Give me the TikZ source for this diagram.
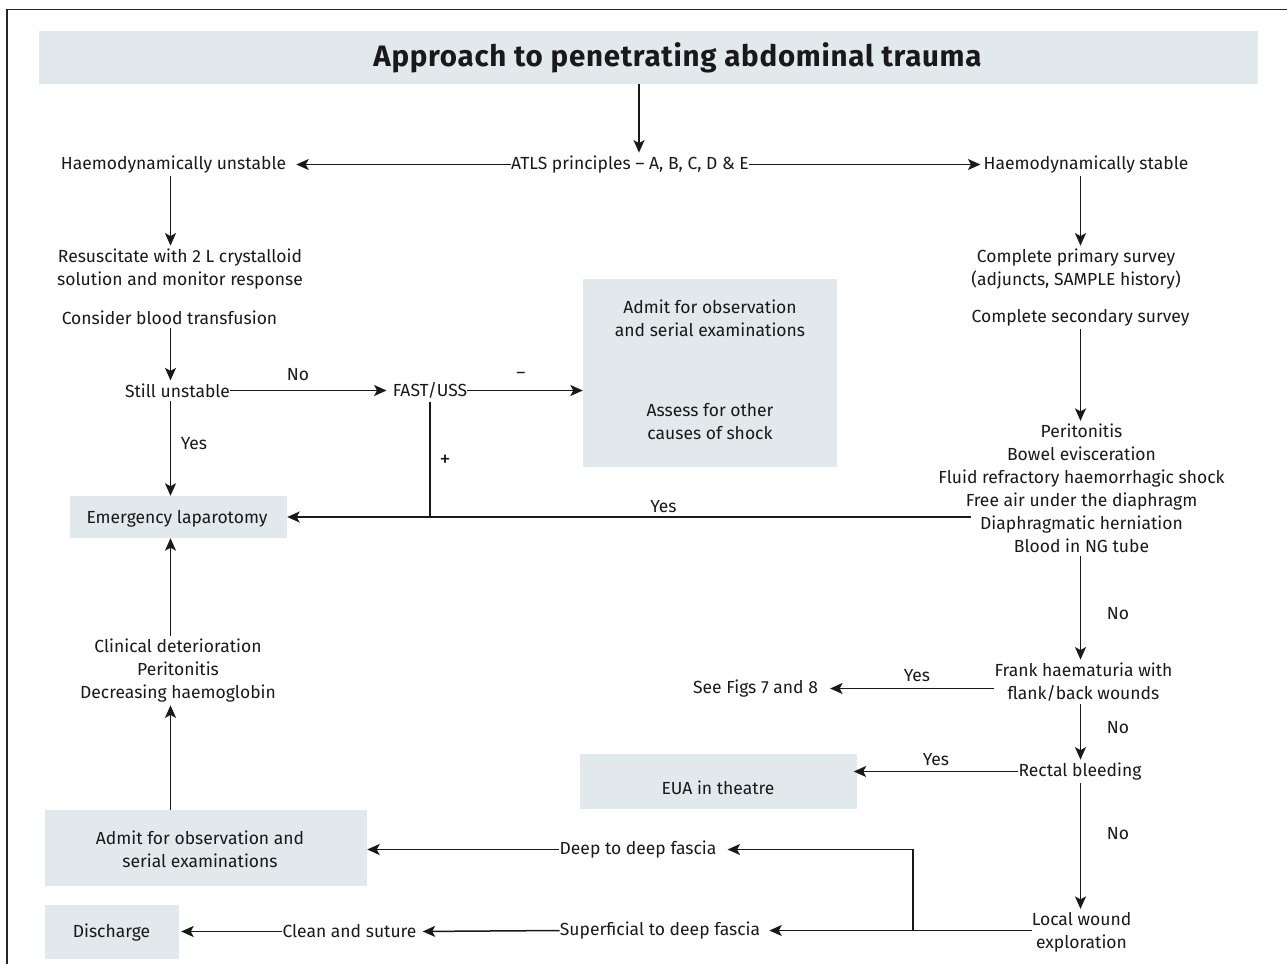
\documentclass[tikz,border=0pt]{standalone}
\usepackage{fontspec}
\setmainfont{Fira Sans}
\newfontfamily\headfamily[LetterSpace=2.5]{Fira Sans}
\usetikzlibrary{arrows.meta}
\definecolor{boxfill}{RGB}{226,233,236}
\definecolor{ink}{RGB}{25,25,25}
\newcommand\bodyfont{\fontsize{17.5}{23}\selectfont}
\newcommand\headfont{\headfamily\fontsize{29.5}{34}\selectfont\bfseries}
\tikzset{
  txt/.style={font=\bodyfont, text=ink, inner xsep=0pt, inner ysep=3pt, align=center},
  lbl/.style={font=\bodyfont, text=ink, inner sep=0pt},
  shaded/.style={fill=boxfill, inner sep=0pt, draw=none},
  arr/.style={draw=ink, line width=1.5pt, -{Stealth[length=12.5pt,width=11pt,inset=3pt]}},
  ln/.style={draw=ink, line width=1.5pt},
}
\begin{document}
\begin{tikzpicture}[x=1pt,y=-1pt]
\useasboundingbox (0,0) rectangle (1287,964);
% outer frame (top and left edges only)
\draw[line width=1.6pt, draw=black!85] (7,964) -- (7,9.5) -- (1287,9.5);

% column guides for vertical connectors
\coordinate (cL) at (170.5,0);
\coordinate (cR) at (1080.5,0);
\coordinate (cT) at (639,0);
\coordinate (br) at (913,0);
\coordinate (dh) at (971,517);

% shaded boxes
\node[shaded, minimum width=1219pt, minimum height=53pt] (titlebox) at (648.5,57.5) {};
\node[font=\headfont, text=ink, inner sep=0pt] (title) at (677.5,58) {Approach to penetrating abdominal trauma};
\node[shaded, minimum width=254pt, minimum height=188pt] (box1) at (710,373) {};
\node[shaded, minimum width=217pt, minimum height=42pt] (lap) at (178.5,517) {};
\node[shaded, minimum width=277pt, minimum height=55pt] (eua) at (718,781.5) {};
\node[shaded, minimum width=322pt, minimum height=76pt] (adm2) at (206,848) {};
\node[shaded, minimum width=134pt, minimum height=54pt] (dis) at (112,932) {};

% texts inside boxes
\node[txt] (admit1) at (710,318) {Admit for observation\\and serial examinations};
\node[txt] (assess) at (710,422) {Assess for other\\causes of shock};
\node[txt] (laptext) at (177,518.5) {Emergency laparotomy};
\node[txt] (euatext) at (718,787.5) {EUA in theatre};
\node[txt] (adm2text) at (200,849) {Admit for observation and\\serial examinations};
\node[txt] (distext) at (111.5,932.5) {Discharge};

% free-standing texts
\node[txt] (atls) at (630,164.5) {ATLS principles -- A, B, C, D \& E};
\node[txt] (unst) at (173.5,164.5) {Haemodynamically unstable};
\node[txt] (stab) at (1086,164.5) {Haemodynamically stable};
\node[txt] (resus) at (180,269) {Resuscitate with 2 L crystalloid\\solution and monitor response};
\node[txt] (consider) at (169.5,317.5) {Consider blood transfusion};
\node[txt] (still) at (177.5,390.5) {Still unstable};
\node[txt] (fast) at (430,390.5) {FAST/USS};
\node[txt] (primary) at (1076,269) {Complete primary survey\\(adjuncts, SAMPLE history)};
\node[txt] (secondary) at (1080.5,317.5) {Complete secondary survey};
\node[txt] (list) at (1081.5,488.5) {Peritonitis\\Bowel evisceration\\Fluid refractory haemorrhagic shock\\Free air under the diaphragm\\Diaphragmatic herniation\\Blood in NG tube};
\node[txt] (frank) at (1083.5,682) {Frank haematuria with\\flank/back wounds};
\node[txt] (seefigs) at (755.5,688.5) {See Figs 7 and 8};
\node[txt] (rect) at (1080,771.5) {Rectal bleeding};
\node[txt] (lwe) at (1081.5,932) {Local wound\\exploration};
\node[txt] (sup) at (660,930.5) {Superficial to deep fascia};
\node[txt] (deep) at (638,849.5) {Deep to deep fascia};
\node[txt] (clean) at (349.5,931.5) {Clean and suture};
\node[txt] (clin) at (178,670.5) {Clinical deterioration\\Peritonitis\\Decreasing haemoglobin};

% branch labels
\node[lbl] (lNo1) at (298,374.5) {No};
\node[lbl] (lMinus) at (521,375) {--};
\node[lbl, font=\fontsize{22}{23}\selectfont] (lPlus) at (445,461) {+};
\node[lbl] (lYes1) at (194,443.5) {Yes};
\node[lbl] (lYes2) at (663.5,506.5) {Yes};
\node[lbl] (lNo2) at (1118,613.5) {No};
\node[lbl] (lYes3) at (917,675.5) {Yes};
\node[lbl] (lNo3) at (1118,727.5) {No};
\node[lbl] (lYes4) at (936,759.5) {Yes};
\node[lbl] (lNo4) at (1118,833.5) {No};

% connectors
\draw[arr] (titlebox.south -| cT) -- (atls.north -| cT);
\draw[arr, shorten >=10pt] (atls.west) -- (unst.east);
\draw[arr, shorten >=3pt] (atls.east) -- (stab.west);
\draw[arr] (unst.south -| cL) -- (resus.north -| cL);
\draw[arr] (consider.south -| cL) -- (still.north -| cL);
\draw[arr, shorten >=6pt] (still.east) -- (fast.west);
\draw[arr] (fast.east) -- (fast.east -| box1.west);
\draw[arr] (still.south -| cL) -- (lap.north -| cL);
\draw[ln] (fast.south) -- (fast.south |- lap.east);
\draw[arr] (dh) -- (lap.east);
\draw[arr] (stab.south -| cR) -- (primary.north -| cR);
\draw[arr] (secondary.south -| cR) -- (list.north -| cR);
\draw[arr] (list.south -| cR) -- (frank.north -| cR);
\draw[arr, shorten >=12pt] (frank.west |- seefigs.east) -- (seefigs.east);
\draw[arr] (frank.south -| cR) -- (rect.north -| cR);
\draw[arr, shorten >=-3pt] (rect.west) -- (rect.west -| eua.east);
\draw[arr] (rect.south -| cR) -- (lwe.north -| cR);
\draw[arr, shorten >=9pt] (lwe.west |- sup.east) -- (sup.east);
\draw[arr, shorten >=11pt] (br |- sup.east) |- (deep.east);
\draw[arr] (deep.west) -- (deep.west -| adm2.east);
\draw[arr, shorten >=6pt] (sup.west) -- (clean.east);
\draw[arr, shorten >=2pt] (clean.west) -- (clean.west -| dis.east);
\draw[arr] (adm2.north -| cL) -- (clin.south -| cL);
\draw[arr] (clin.north -| cL) -- (lap.south -| cL);
\end{tikzpicture}
\end{document}
